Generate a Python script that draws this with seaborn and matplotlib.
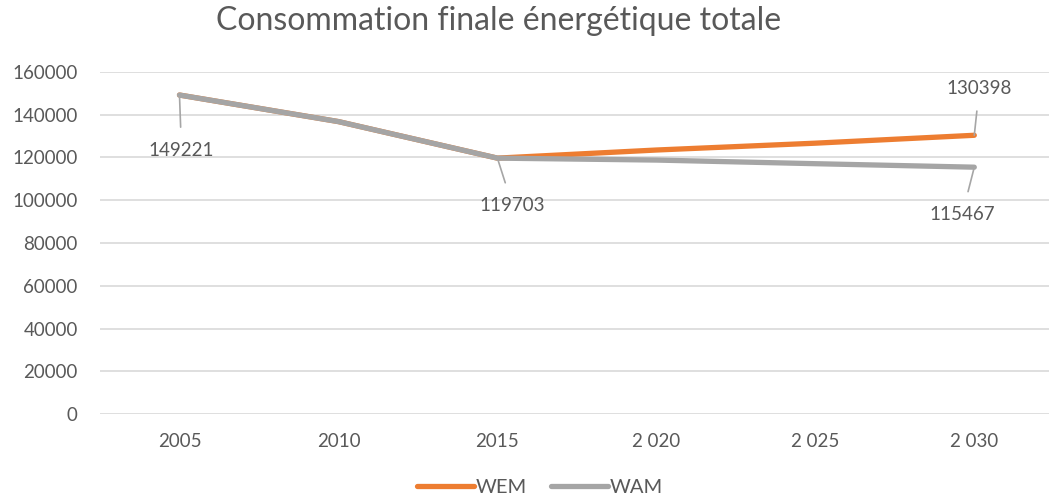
import numpy as np
import pandas as pd
import matplotlib
matplotlib.use("Agg")
import matplotlib.pyplot as plt
import seaborn as sns
from matplotlib.lines import Line2D

# Data
years = ["2005", "2010", "2015", "2 020", "2 025", "2 030"]
wem = [149221, 136800, 119703, 123500, 126700, 130398]
wam = [149221, 136800, 119703, 118800, 117100, 115467]

df = pd.DataFrame({
    "pos": list(range(len(years))) * 2,
    "value": wem + wam,
    "scenario": ["WEM"] * len(years) + ["WAM"] * len(years),
})

sns.set_theme(style="white")
plt.rcParams["font.family"] = ["Lato", "DejaVu Sans"]
txt = "#595959"

fig = plt.figure(figsize=(10.49, 5), dpi=100)
ax = fig.add_axes([100 / 1049, 1 - 414 / 500, 1 - 100 / 1049, (414 - 72) / 500])

sns.lineplot(data=df, x="pos", y="value", hue="scenario",
             palette={"WEM": "#ED7D31", "WAM": "#A5A5A5"},
             hue_order=["WEM", "WAM"], linewidth=3.8, ax=ax,
             solid_capstyle="round", legend=False)

ax.set_xlim(-0.5, 5.47)
ax.set_ylim(0, 160000)
ax.set_yticks(np.arange(0, 160001, 20000))
ax.set_xticks(range(len(years)))
ax.set_xticklabels(years)
ax.yaxis.grid(True, color="#D9D9D9", linewidth=1.2)
ax.xaxis.grid(False)
for s in ax.spines.values():
    s.set_visible(False)
ax.tick_params(axis="y", length=0, pad=16, labelsize=13.5, labelcolor=txt)
ax.tick_params(axis="x", length=0, pad=14, labelsize=13.5, labelcolor=txt)
ax.set_xlabel("")
ax.set_ylabel("")

fig.text(0.475, 0.958, "Consommation finale énergétique totale", ha="center",
         va="center", fontsize=23, color=txt)

# data labels with leader lines (offsets in pixels)
labels = [
    (0, wam[0], (2, -55)),
    (2, wam[2], (15, -47)),
    (5, wem[5], (5, 47)),
    (5, wam[5], (-12, -47)),
]
for xi, yi, off in labels:
    ax.annotate(f"{yi}", xy=(xi, yi), xytext=off, textcoords="offset pixels",
                ha="center", va="center", fontsize=13.5, color=txt,
                arrowprops=dict(arrowstyle="-", color="#A6A6A6", lw=1.2,
                                shrinkA=8, shrinkB=0))

handles = [Line2D([], [], color="#ED7D31", lw=3.8, solid_capstyle="round"),
           Line2D([], [], color="#A5A5A5", lw=3.8, solid_capstyle="round")]
fig.legend(handles, ["WEM", "WAM"], loc="center", bbox_to_anchor=(0.515, 0.025),
           ncol=2, frameon=False, fontsize=14.5, labelcolor=txt,
           handlelength=2.8, handletextpad=0.1, columnspacing=1.2)

fig.savefig("out.png", dpi=100)
